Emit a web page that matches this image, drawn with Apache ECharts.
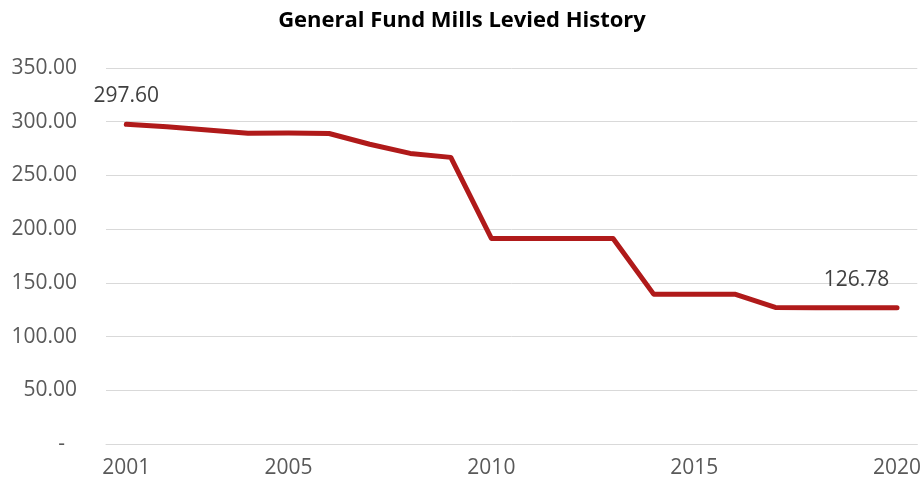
<!DOCTYPE html>
<html>
<head>
<meta charset="utf-8">
<script src="https://cdn.jsdelivr.net/npm/echarts@6/dist/echarts.min.js"></script>
<style>
  html, body { margin: 0; padding: 0; background: #fff; }
  #chart { width: 924px; height: 487px; }
</style>
</head>
<body>
<div id="chart"></div>
<script>
// data
const years = ['2001', '2002', '2003', '2004', '2005', '2006', '2007', '2008', '2009', '2010',
  '2011', '2012', '2013', '2014', '2015', '2016', '2017', '2018', '2019', '2020'];
const mills = [297.60, 295.3, 292.3, 289.2, 289.5, 289.0, 279.0, 270.5, 266.8, 191.3,
  191.3, 191.3, 191.3, 139.5, 139.5, 139.5, 127.1, 126.78, 126.78, 126.78];
const shownYears = ['2001', '2005', '2010', '2015', '2020'];
const labelledPoints = [0, 18];

const font = '"Open Sans", "Noto Sans", sans-serif';
const chart = echarts.init(document.getElementById('chart'));

const option = {
  animation: false,
  title: {
    text: 'General Fund Mills Levied History',
    left: 'center',
    top: 5,
    textStyle: { fontFamily: font, fontSize: 22, fontWeight: 'bold', color: '#000' }
  },
  grid: { left: 106, right: 5, top: 68, bottom: 43, containLabel: false },
  xAxis: {
    type: 'category',
    data: years,
    boundaryGap: true,
    axisLine: { lineStyle: { color: '#d9d9d9', width: 1 } },
    axisTick: { show: false },
    axisLabel: {
      interval: function (i, v) { return shownYears.indexOf(v) >= 0; },
      margin: 14,
      fontFamily: font,
      fontSize: 21,
      color: '#595959'
    }
  },
  yAxis: {
    type: 'value',
    min: 0,
    max: 350,
    interval: 50,
    axisLine: { show: false },
    axisTick: { show: false },
    splitLine: { lineStyle: { color: '#d9d9d9', width: 1 } },
    axisLabel: {
      margin: 29,
      fontFamily: font,
      fontSize: 21,
      color: '#595959',
      formatter: function (v) { return v === 0 ? '{d|-}' : v.toFixed(2); },
      rich: { d: { padding: [0, 12, 0, 0], fontSize: 21, color: '#595959', fontFamily: font } }
    }
  },
  series: [{
    type: 'line',
    data: mills.map(function (v, i) {
      return labelledPoints.indexOf(i) >= 0
        ? { value: v, label: { show: true } }
        : v;
    }),
    symbol: 'circle',
    symbolSize: 1,
    lineStyle: { color: '#b01a1a', width: 5, join: 'round', cap: 'round' },
    itemStyle: { color: '#b01a1a' },
    label: {
      show: false,
      position: 'top',
      distance: 17,
      fontFamily: font,
      fontSize: 21,
      color: '#404040',
      formatter: function (p) { return p.value.toFixed(2); }
    }
  }]
};
chart.setOption(option);
</script>
</body>
</html>
